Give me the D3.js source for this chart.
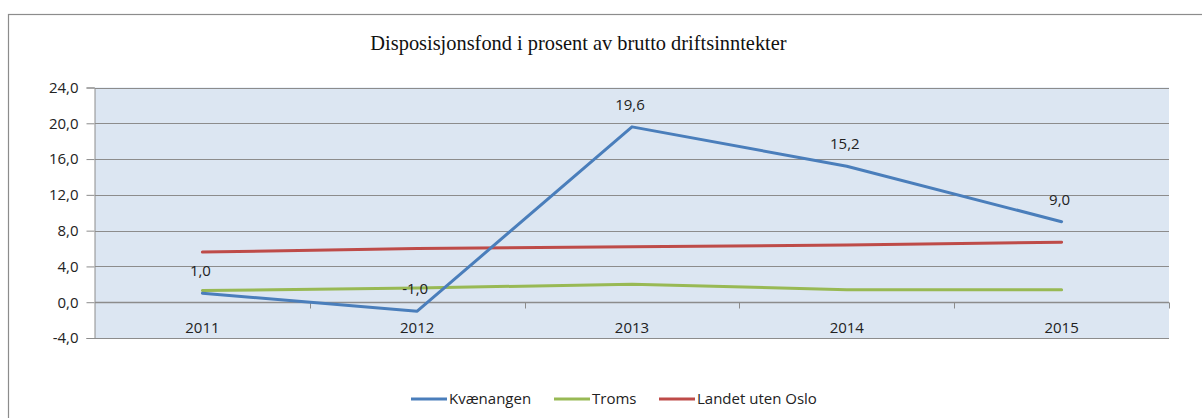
<!DOCTYPE html>
<html>
<head>
<meta charset="utf-8">
<script src="https://cdn.jsdelivr.net/npm/d3@7"></script>
<style>
  html, body { margin: 0; padding: 0; background: #fff; }
  svg { display: block; }
</style>
</head>
<body>
<svg id="chart" width="1202" height="418"></svg>
<script>
const title = "Disposisjonsfond i prosent av brutto driftsinntekter";
const years = ["2011", "2012", "2013", "2014", "2015"];
const kvaenangen = [1.0, -1.0, 19.6, 15.2, 9.0];
const troms = [1.3, 1.6, 2.0, 1.4, 1.4];
const landet = [5.6, 6.0, 6.2, 6.4, 6.7];
const yTicks = [-4, 0, 4, 8, 12, 16, 20, 24];
const seriesNames = ["Kvænangen", "Troms", "Landet uten Oslo"];
const seriesColors = ["#4a7ebb", "#98b954", "#be4b48"];

const series = [
  { name: seriesNames[0], values: kvaenangen, color: seriesColors[0], labels: true },
  { name: seriesNames[1], values: troms, color: seriesColors[1], labels: false },
  { name: seriesNames[2], values: landet, color: seriesColors[2], labels: false }
];

const FONT = "'Open Sans', 'Liberation Sans', sans-serif";
const FS = 15;

const svg = d3.select("#chart");
const plot = { left: 95, right: 1169, top: 87.5, bottom: 338 };

// outer frame
svg.append("rect")
  .attr("x", 8.5).attr("y", 14.5)
  .attr("width", 1202).attr("height", 420)
  .attr("fill", "#fff").attr("stroke", "#8c8c8c").attr("stroke-width", 1.2);

const x = d3.scaleBand().domain(years).range([plot.left, plot.right]).padding(0);
const y = d3.scaleLinear().domain([-4, 24]).range([plot.bottom, plot.top]);
const fmt = v => d3.format(".1f")(v).replace(".", ",").replace("−", "-");

// plot background
svg.append("rect")
  .attr("x", plot.left).attr("y", plot.top)
  .attr("width", plot.right - plot.left).attr("height", plot.bottom - plot.top)
  .attr("fill", "#dce6f2");

// gridlines
svg.append("g").selectAll("line").data(yTicks).join("line")
  .attr("x1", plot.left).attr("x2", plot.right)
  .attr("y1", d => Math.round(y(d)) + 0.5).attr("y2", d => Math.round(y(d)) + 0.5)
  .attr("stroke", "#8c8c8c").attr("stroke-width", 1);

// value axis
const yAxis = svg.append("g")
  .attr("transform", `translate(${plot.left - 0.5},0)`)
  .call(d3.axisLeft(y).tickValues(yTicks).tickFormat(fmt).tickSize(8).tickPadding(8));
yAxis.select(".domain").attr("stroke", "#8c8c8c");
yAxis.selectAll(".tick line").attr("stroke", "#8c8c8c");
yAxis.selectAll(".tick text")
  .attr("font-family", FONT)
  .attr("font-size", FS).attr("fill", "#222");

// category axis at y = 0
const zeroY = Math.round(y(0)) + 0.5;
const bounds = years.map(d => x(d)).concat([x(years[years.length - 1]) + x.bandwidth()]);
const xg = svg.append("g");
xg.append("line").attr("x1", plot.left).attr("x2", plot.right)
  .attr("y1", zeroY).attr("y2", zeroY).attr("stroke", "#8c8c8c").attr("stroke-width", 1.5);
xg.selectAll("line.tk").data(bounds.slice(1)).join("line").attr("class", "tk")
  .attr("x1", d => Math.round(d) + 0.5).attr("x2", d => Math.round(d) + 0.5)
  .attr("y1", zeroY).attr("y2", zeroY + 6).attr("stroke", "#8c8c8c");
xg.selectAll("text").data(years).join("text")
  .attr("x", d => x(d) + x.bandwidth() / 2)
  .attr("y", zeroY + 30)
  .attr("text-anchor", "middle")
  .attr("font-family", FONT)
  .attr("font-size", FS).attr("fill", "#222")
  .text(d => d);

// lines
const line = d3.line()
  .x((d, i) => x(years[i]) + x.bandwidth() / 2)
  .y(d => y(d));

svg.append("g").selectAll("path").data(series.slice().reverse()).join("path")
  .attr("d", s => line(s.values))
  .attr("fill", "none").attr("stroke", s => s.color)
  .attr("stroke-width", 3).attr("stroke-linejoin", "round").attr("stroke-linecap", "round");

// data labels
series.filter(s => s.labels).forEach(s => {
  svg.append("g").selectAll("text").data(s.values).join("text")
    .attr("x", (d, i) => x(years[i]) + x.bandwidth() / 2 - 2)
    .attr("y", d => y(d) - 17)
    .attr("text-anchor", "middle")
    .attr("font-family", FONT)
    .attr("font-size", FS).attr("fill", "#222")
    .text(d => fmt(d));
});

// title
svg.append("text")
  .attr("x", 578.5).attr("y", 50)
  .attr("text-anchor", "middle")
  .attr("font-family", "'Liberation Serif', 'Times New Roman', serif")
  .attr("font-size", 20.4).attr("fill", "#111")
  .text(title);

// legend
const legendX = [411, 554, 659];
const lg = svg.append("g").selectAll("g").data(series).join("g")
  .attr("transform", (d, i) => `translate(${legendX[i]},399)`);
lg.append("line").attr("x1", 0).attr("x2", 36).attr("y1", 0).attr("y2", 0)
  .attr("stroke", d => d.color).attr("stroke-width", 3);
lg.append("text").attr("x", 38).attr("y", 5)
  .attr("font-family", FONT)
  .attr("font-size", FS).attr("fill", "#222")
  .text(d => d.name);
</script>
</body>
</html>
